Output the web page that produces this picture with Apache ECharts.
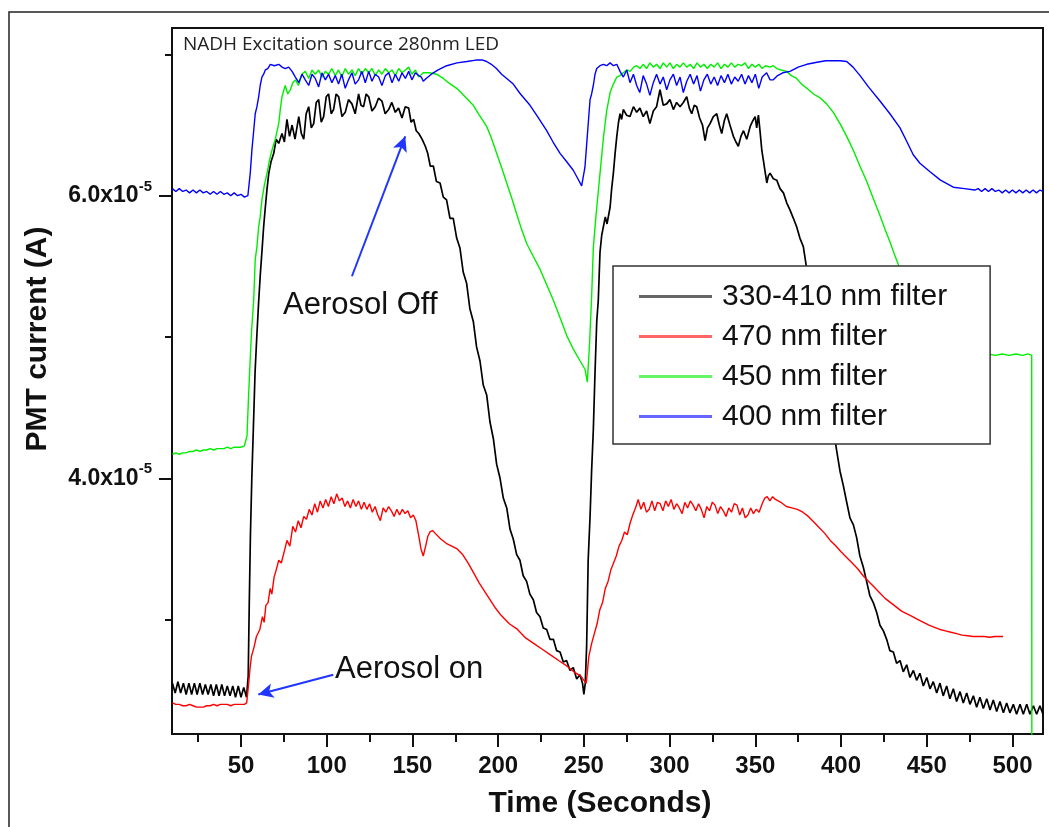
<!DOCTYPE html>
<html>
<head>
<meta charset="utf-8">
<script src="https://cdn.jsdelivr.net/npm/echarts@6/dist/echarts.min.js"></script>
<style>
html,body{margin:0;padding:0;background:#fff;}
#chart{width:1049px;height:827px;}
</style>
</head>
<body>
<div id="chart"></div>
<script>
// Currents are in units of 1e-5 A; time in seconds
const seriesNames = ['330-410 nm filter', '470 nm filter', '450 nm filter', '400 nm filter'];
const seriesColors = ['#000000', '#ff0000', '#00ee00', '#0000ff'];

const xMajorTicks = [50,100,150,200,250,300,350,400,450,500];
const xMinorTicks = [25,75,125,175,225,275,325,375,425,475];
const yMajorTicks = [4,6];
const yMinorTicks = [3,5,7];
const X_MIN = 9.75, X_MAX = 517.8;
const Y_MIN = 2.19, Y_MAX = 7.187;

const filter330_410 = [
[10,2.55],[11.6,2.48],[13.2,2.56],[14.8,2.48],[16.4,2.55],[18,2.47],[19.6,2.55],[21.2,2.47],[22.8,2.55],[24.4,2.47],
[26,2.55],[27.6,2.47],[29.2,2.54],[30.8,2.47],[32.4,2.54],[34,2.46],[35.6,2.54],[37.2,2.46],[38.8,2.54],[40.4,2.46],
[42,2.53],[43.6,2.46],[45.2,2.53],[46.8,2.45],[48.4,2.53],[50,2.45],[51.6,2.52],[53.2,2.45],
[54.2,2.6],[54.8,3.1],[55.5,3.6],[56.3,4.0],[57.2,4.35],[58.2,4.75],[59.2,5.0],[60.3,5.25],[61.3,5.45],[62.3,5.62],
[63.2,5.78],[64.2,5.92],[65.2,6.05],[66.2,6.16],[67.5,6.24],[69.1,6.30],[70.5,6.40],[72,6.37],[73.9,6.44],[75.3,6.38],
[76.8,6.54],[78.3,6.42],[79.8,6.50],[81.5,6.40],[83.7,6.56],[85.2,6.44],[86.6,6.40],[88,6.58],[89.5,6.63],[91,6.48],
[92.4,6.51],[93.9,6.66],[95.3,6.68],[96.8,6.52],[98.2,6.56],[99.7,6.70],[101.1,6.72],[102.6,6.58],[104,6.61],[105.5,6.72],
[107,6.70],[108.9,6.56],[110.8,6.59],[112.7,6.68],[114.7,6.65],[116.6,6.58],[118.6,6.72],[120,6.64],[121.5,6.63],[123,6.72],
[124.5,6.70],[126.4,6.60],[128.3,6.63],[130.2,6.69],[132.2,6.67],[134.1,6.58],[136.1,6.61],[138,6.66],[140,6.59],[141.9,6.62],
[143.9,6.55],[145.8,6.63],[147.8,6.62],[149.2,6.52],[150.7,6.54],[152.2,6.46],[153.7,6.44],[155.6,6.40],[157.5,6.35],[158.9,6.30],
[160.4,6.21],[162.2,6.21],[164,6.10],[166.1,6.09],[168,5.99],[169.9,5.97],[171.9,5.84],[173.8,5.84],[175.8,5.70],[177.7,5.63],
[179.6,5.46],[181.6,5.38],[183.5,5.20],[185.5,5.11],[187.4,4.93],[189.4,4.83],[191.3,4.66],[193.3,4.59],[195.2,4.40],[197.2,4.28],
[199.1,4.10],[201.1,4.00],[203,3.86],[205,3.79],[206.9,3.64],[208.8,3.57],[210.8,3.46],[212.7,3.42],[214.6,3.31],[216.6,3.27],
[218.5,3.18],[220.5,3.14],[222.4,3.05],[224.4,3.02],[226.3,2.94],[228.3,2.93],[230.2,2.86],[232.2,2.86],[234.1,2.78],[236.1,2.77],
[238,2.70],[239.9,2.71],[241.9,2.64],[243.8,2.66],[245.8,2.58],[247.7,2.61],[249.2,2.55],[250,2.47],[250.8,2.55],[251.6,2.81],
[252.5,3.42],[253.6,3.73],[254.5,4.05],[255.5,4.34],[256.5,4.75],[257.5,5.11],[258.4,5.26],[259.4,5.60],[260.4,5.72],[261.4,5.73],
[262.5,5.85],[263.5,5.80],[265.3,5.92],[266.2,6.05],[267.2,6.16],[268.2,6.30],[269.2,6.42],[270.2,6.52],[271.1,6.58],[272,6.54],
[273,6.61],[274.9,6.57],[276.9,6.56],[278.9,6.63],[280.8,6.59],[282.7,6.62],[284.6,6.56],[286.6,6.60],[288.5,6.51],[290.5,6.60],
[292.4,6.63],[294.4,6.75],[296.3,6.64],[298.3,6.65],[300.2,6.68],[302.2,6.61],[304.1,6.66],[306.1,6.63],[308,6.66],[310,6.70],
[311.5,6.62],[312.9,6.58],[314.4,6.64],[315.8,6.63],[317.5,6.55],[319.2,6.50],[320.7,6.39],[322.1,6.48],[323.6,6.51],[325.5,6.56],
[327.5,6.58],[329,6.50],[330.4,6.44],[331.9,6.53],[333.3,6.58],[335.2,6.50],[337.2,6.42],[338.7,6.38],[340.1,6.35],[341.6,6.42],
[343.1,6.46],[345,6.40],[347,6.49],[348.5,6.53],[349.9,6.56],[350.8,6.48],[351.8,6.57],[352.8,6.45],[353.8,6.32],[354.7,6.25],
[355.7,6.17],[356.7,6.09],[357.6,6.14],[358.6,6.16],[360.5,6.12],[362.5,6.11],[364.4,6.05],[366.4,6.02],[368.3,5.95],[370.2,5.90],
[372.2,5.84],[374.1,5.78],[376,5.70],[378,5.64],[380,5.48],[382.5,5.30],[385,5.10],[387.5,4.92],[390,4.75],[392.5,4.58],
[395,4.40],[397.4,4.20],[399.4,4.05],[401.3,3.95],[403.3,3.83],[405.2,3.72],[407.2,3.67],[409.1,3.58],[411,3.45],[413,3.37],
[414.9,3.27],[416.8,3.17],[418.8,3.12],[420.8,3.05],[422.7,2.96],[424.7,2.92],[426.6,2.86],[428.5,2.78],[430.5,2.77],[432.4,2.69],
[434.4,2.71],[436.3,2.63],[438.3,2.68],[440.2,2.59],[442.2,2.64],[444.1,2.57],[446,2.62],[448,2.53],[450,2.59],[451.9,2.51],
[453.8,2.56],[455.8,2.48],[457.7,2.55],[459.6,2.46],[461.6,2.53],[463.5,2.44],[465.5,2.51],[467.4,2.42],[469.4,2.49],[471.3,2.41],
[473.3,2.48],[475.2,2.40],[477.2,2.46],[479.1,2.38],[481,2.45],[483,2.37],[485,2.44],[486.9,2.36],[488.8,2.43],[490.8,2.35],
[492.7,2.42],[494.7,2.34],[496.6,2.41],[498.5,2.34],[500.5,2.40],[502.4,2.33],[504.4,2.40],[506.3,2.33],[508.3,2.40],[510.2,2.33],
[512.2,2.39],[514.1,2.33],[516,2.39],[517.8,2.33]
];

const filter470 = [
[10,2.41],[12,2.40],[14,2.40],[16,2.39],[18,2.39],[20,2.40],[22,2.39],[24,2.38],[26,2.38],[28,2.38],[30,2.39],[32,2.39],
[34,2.40],[36,2.39],[38,2.40],[40,2.40],[42,2.40],[44,2.39],[46,2.40],[48,2.40],[50,2.40],[52,2.40],[53.3,2.41],
[54.5,2.55],[55.3,2.66],[56.1,2.74],[57.5,2.80],[59,2.88],[61,2.93],[62.5,3.02],[63.5,2.98],[64.5,3.10],[65.8,3.12],
[67,3.22],[68,3.18],[69.3,3.30],[70.5,3.35],[72,3.42],[73.5,3.40],[75.4,3.49],[76.8,3.56],[78.5,3.52],[80.2,3.66],
[81.8,3.62],[83.4,3.70],[85,3.65],[86.6,3.73],[88.2,3.71],[89.8,3.78],[91.4,3.74],[93,3.82],[94.6,3.76],[96.2,3.84],
[97.8,3.79],[99.4,3.85],[101,3.80],[102.6,3.87],[104.2,3.82],[105.8,3.89],[107.4,3.84],[109,3.86],[110.6,3.80],[112.2,3.84],
[113.8,3.79],[115.4,3.85],[117,3.80],[118.6,3.84],[120.2,3.78],[121.8,3.83],[123.4,3.78],[125,3.82],[126.6,3.76],[128.2,3.80],
[129.8,3.74],[131.3,3.70],[132.9,3.79],[134.5,3.76],[136.1,3.80],[137.7,3.77],[139.3,3.73],[140.9,3.78],[142.5,3.74],[144.1,3.78],
[145.7,3.75],[147.3,3.77],[148.9,3.72],[150.5,3.74],[152,3.70],[153.7,3.59],[155,3.50],[156.3,3.45],[157.7,3.52],[159,3.59],
[160.2,3.62],[161.7,3.63],[163.3,3.61],[166.5,3.57],[169.7,3.54],[172.9,3.52],[176.1,3.50],[179.3,3.46],[182.5,3.40],[185.7,3.33],
[188.9,3.26],[192.1,3.20],[195.3,3.14],[198.5,3.08],[201.7,3.03],[206.5,2.97],[211.3,2.93],[216,2.87],[220.9,2.83],[225.7,2.79],
[230.5,2.75],[235.3,2.71],[240.2,2.67],[244.2,2.63],[248.2,2.60],[250,2.57],[251.4,2.55],[252.9,2.74],[254.5,2.83],[256.1,2.90],
[257.7,2.97],[259.3,3.07],[260.9,3.12],[262.5,3.22],[264.1,3.27],[265.7,3.35],[267.3,3.40],[268.9,3.45],[270.5,3.52],[272.1,3.56],
[273.7,3.62],[275.3,3.60],[276.9,3.68],[278.5,3.74],[280.1,3.79],[281.7,3.85],[283.3,3.78],[284.9,3.83],[286.5,3.76],[288.1,3.78],
[289.7,3.84],[291.3,3.77],[292.9,3.83],[294.5,3.82],[296.1,3.77],[297.7,3.84],[299.3,3.80],[300.9,3.85],[302.5,3.78],[304.1,3.82],
[305.7,3.79],[307.3,3.75],[308.9,3.83],[310.5,3.79],[312.1,3.84],[313.7,3.81],[315.3,3.77],[316.9,3.82],[318.5,3.78],[320.1,3.72],
[321.7,3.80],[323.3,3.77],[324.9,3.83],[326.5,3.81],[328.1,3.75],[329.7,3.80],[331.3,3.77],[332.9,3.73],[334.5,3.79],[336.1,3.76],
[337.7,3.82],[339.3,3.81],[340.9,3.74],[342.5,3.79],[344.1,3.72],[345.7,3.74],[347.3,3.79],[348.9,3.75],[350.5,3.78],[352.2,3.76],
[354,3.82],[355.5,3.86],[356.9,3.87],[358.5,3.84],[360.1,3.87],[361.7,3.85],[364.9,3.83],[368.1,3.80],[371.3,3.79],[374.5,3.78],
[377.7,3.76],[380.9,3.73],[384.1,3.69],[387.3,3.65],[390.5,3.61],[393.7,3.56],[397,3.52],[400,3.48],[403.3,3.44],[406.5,3.40],
[409.7,3.36],[412.9,3.31],[416.1,3.27],[419.3,3.23],[422.5,3.19],[425.7,3.15],[428.9,3.12],[432.1,3.09],[435.3,3.06],[438.5,3.04],
[441.7,3.02],[444.9,3.00],[448.1,2.98],[451.3,2.96],[454.5,2.945],[457.7,2.93],[460.9,2.92],[464.1,2.91],[467.4,2.90],[470.6,2.89],
[473.8,2.885],[477,2.88],[480.2,2.88],[483.4,2.88],[486.6,2.875],[489.8,2.88],[494.5,2.88]
];

const filter450 = [
[10,4.17],[12,4.18],[14,4.17],[16,4.18],[18,4.18],[20,4.19],[22,4.19],[24,4.20],[26,4.19],[28,4.20],[30,4.20],[32,4.21],
[34,4.20],[36,4.21],[38,4.21],[40,4.21],[42,4.22],[44,4.21],[46,4.22],[48,4.22],[50,4.22],[52,4.23],[53,4.23],
[53.5,4.30],[54.3,4.55],[55.2,4.80],[56.2,5.05],[57.4,5.26],[58.3,5.55],[59.3,5.64],[60.3,5.78],[61.2,5.85],[62.2,5.97],
[63.7,6.08],[65.2,6.16],[66.6,6.25],[68,6.32],[70,6.40],[72,6.51],[73,6.62],[73.9,6.70],[75.8,6.78],[77.3,6.72],
[78.8,6.75],[80.2,6.80],[81.7,6.82],[83.5,6.78],[85.5,6.86],[87.5,6.88],[89.5,6.83],[91.4,6.89],[93.3,6.86],[95.3,6.89],
[97.2,6.84],[99.2,6.88],[101.1,6.86],[103,6.90],[105,6.85],[106.9,6.89],[108.8,6.84],[110.8,6.90],[112.7,6.86],[114.7,6.89],
[116.6,6.85],[118.6,6.90],[120.5,6.86],[122.5,6.90],[124.5,6.87],[126.4,6.90],[128.3,6.85],[130.3,6.89],[132.2,6.86],[134.2,6.90],
[136.2,6.87],[138.1,6.89],[140,6.85],[142,6.90],[143.9,6.87],[145.9,6.89],[147.8,6.91],[149.7,6.86],[151.7,6.89],[153.7,6.84],
[156.3,6.87],[160,6.87],[164,6.86],[168,6.83],[171,6.80],[175.8,6.76],[180,6.71],[185.5,6.64],[189,6.57],[193.3,6.49],
[196,6.41],[199.1,6.30],[202,6.20],[205,6.09],[208,5.98],[210.8,5.87],[213.7,5.76],[216.7,5.66],[220.5,5.57],[224.4,5.48],
[228.3,5.37],[232.2,5.26],[236,5.14],[240,5.01],[244,4.91],[247.8,4.83],[250.7,4.77],[252,4.68],[253.3,4.95],[254.5,5.28],
[255.5,5.63],[257,5.85],[258.4,6.03],[259.9,6.22],[261.4,6.41],[263.3,6.60],[265.3,6.73],[267.2,6.79],[269.2,6.84],[271,6.85],
[273,6.87],[275,6.89],[277,6.88],[279,6.91],[280.8,6.92],[282.7,6.90],[284.6,6.93],[286.6,6.90],[288.5,6.94],[290.5,6.91],
[292.4,6.93],[294.4,6.90],[296.3,6.94],[298.3,6.91],[300.2,6.94],[302.2,6.90],[304.1,6.93],[306,6.91],[308,6.94],[310,6.91],
[312,6.93],[314,6.90],[316,6.94],[318,6.91],[320,6.93],[322,6.90],[324,6.93],[326,6.91],[328,6.94],[330,6.90],
[332,6.93],[334,6.91],[336,6.94],[338,6.91],[340,6.93],[342,6.92],[344,6.94],[346,6.90],[348,6.93],[350,6.91],
[352,6.93],[354,6.90],[356,6.92],[358.6,6.91],[360.5,6.92],[362.5,6.90],[365,6.89],[368.3,6.88],[371,6.85],[374.1,6.83],
[377,6.79],[380,6.76],[384,6.72],[388,6.69],[391.6,6.65],[395.5,6.59],[399.4,6.51],[403.3,6.42],[407.2,6.32],[411,6.21],
[415,6.10],[418.8,5.98],[422.7,5.86],[425.7,5.76],[428.6,5.67],[431,5.59],[433.5,5.51],[437,5.38],[441,5.20],[445,5.03],
[450,4.93],[456,4.89],[462,4.88],[470,4.87],[478,4.88],[483,4.87],[486,4.88],[490,4.87],[494,4.88],[498,4.87],
[502,4.88],[506,4.87],[509,4.88],[511.2,4.87],[511.3,2.0]
];

const filter400 = [
[10,6.05],[12,6.03],[14,6.05],[16,6.03],[18,6.04],[20,6.02],[22,6.04],[24,6.02],[26,6.04],[28,6.02],[30,6.03],[32,6.01],
[34,6.03],[36,6.01],[38,6.03],[40,6.01],[42,6.02],[44,6.00],[46,6.02],[48,6.00],[50,6.01],[52,5.99],[54,6.00],[54.5,6.00],
[55.4,6.16],[56.4,6.33],[57.4,6.46],[58.3,6.58],[59.3,6.63],[60.3,6.70],[61.2,6.78],[62.2,6.84],[63.2,6.86],[64.2,6.89],
[65.6,6.90],[67.1,6.93],[69.5,6.92],[72,6.93],[74,6.91],[75.8,6.90],[77.8,6.91],[79.8,6.88],[81.7,6.84],[83.7,6.80],
[85.6,6.86],[87.5,6.82],[89.5,6.78],[91.4,6.86],[93.3,6.83],[95.3,6.77],[97.2,6.87],[99.2,6.82],[101.1,6.86],[103,6.80],
[105,6.85],[106.9,6.79],[108.8,6.86],[110.8,6.76],[112.7,6.82],[114.7,6.87],[116.6,6.79],[118.6,6.82],[120.5,6.88],[122.5,6.80],
[124.5,6.88],[126.4,6.81],[128.3,6.86],[130.3,6.84],[132.2,6.78],[134.2,6.85],[136.2,6.87],[138.1,6.80],[140,6.86],[142,6.81],
[143.9,6.87],[145.9,6.83],[147.8,6.88],[149.7,6.82],[151.7,6.87],[153.7,6.85],[155.2,6.84],[156.3,6.81],[158,6.83],[161,6.86],
[165,6.89],[170,6.92],[176,6.94],[181.7,6.95],[187,6.96],[191,6.96],[193.3,6.95],[196,6.93],[199,6.90],[202,6.86],
[205,6.83],[208.8,6.79],[213,6.72],[218.6,6.64],[223,6.56],[228.3,6.46],[232,6.38],[236.1,6.30],[240,6.24],[243.8,6.18],
[246.5,6.12],[248.7,6.07],[249.7,6.08],[250.6,6.20],[251.6,6.36],[252.6,6.52],[253.6,6.68],[254.5,6.72],[255.5,6.78],[256.5,6.86],
[257.5,6.90],[259.4,6.92],[261.4,6.93],[263.3,6.92],[265.3,6.94],[267.2,6.92],[269.2,6.93],[271.1,6.88],[273,6.84],[275,6.89],
[276.9,6.80],[278.9,6.86],[280.8,6.78],[282.6,6.73],[284.6,6.85],[286.6,6.79],[288.5,6.71],[290.5,6.80],[292.4,6.86],[294.4,6.79],
[296.3,6.84],[298.3,6.75],[300.2,6.82],[302.2,6.86],[304.1,6.78],[306.1,6.84],[308,6.73],[310,6.81],[312,6.86],[314,6.79],
[316,6.85],[318,6.74],[320,6.82],[322,6.86],[324,6.79],[326,6.84],[328,6.78],[330,6.85],[332,6.80],[334,6.86],
[336,6.79],[338,6.84],[340,6.81],[342,6.86],[344,6.79],[346,6.85],[348,6.80],[350,6.86],[352,6.76],[354,6.84],
[356.6,6.87],[358.6,6.82],[360.5,6.82],[363,6.85],[366,6.87],[370.2,6.88],[375,6.91],[380,6.93],[386,6.945],[391,6.955],
[395.5,6.955],[399.5,6.955],[403.3,6.95],[407,6.91],[411.1,6.85],[416,6.77],[422.7,6.67],[428.5,6.58],[434.4,6.48],[438.5,6.38],
[442.1,6.29],[446,6.23],[451.9,6.17],[458,6.11],[465.5,6.06],[472,6.05],[478,6.04],[480,6.05],[482,6.03],[484,6.05],
[486,6.03],[488,6.05],[490,6.03],[492,6.04],[494,6.02],[496,6.04],[498,6.02],[500,6.04],[502,6.02],[504,6.04],
[506,6.02],[508,6.04],[510,6.02],[512,6.04],[514,6.02],[516,6.04],[517.8,6.03]
];

// annotation arrows: [tail, head] in data coordinates
const arrowOff = [[114.7,5.43],[145.8,6.42]];
const arrowOn = [[103.8,2.61],[60.1,2.47]];

const seriesData = [filter330_410, filter470, filter450, filter400];

const chart = echarts.init(document.getElementById('chart'), null, {renderer:'canvas'});
const axisColor = '#111';
const FONT = 'Liberation Sans, Arial, sans-serif';

const series = seriesData.map((d, i) => ({
  name: seriesNames[i],
  type: 'line',
  data: d,
  showSymbol: false,
  symbol: 'none',
  lineStyle: {color: seriesColors[i], width: i === 0 ? 1.7 : 1.4},
  itemStyle: {color: seriesColors[i]},
  clip: true,
  z: 2 + i
}));
series[3].markLine = {
  silent: true,
  symbol: ['none', 'arrow'],
  symbolSize: [11, 15],
  label: {show: false},
  lineStyle: {color: '#2036ff', width: 2, type: 'solid'},
  data: [
    [{coord: arrowOff[0]}, {coord: arrowOff[1]}],
    [{coord: arrowOn[0]}, {coord: arrowOn[1]}]
  ]
};

const option = {
  animation: false,
  backgroundColor: '#ffffff',
  grid: {left: 172, right: 6, top: 28, bottom: 93, show: true, borderColor: axisColor, borderWidth: 2, backgroundColor: 'transparent'},
  xAxis: [
    {
      type: 'value', min: X_MIN, max: X_MAX, position: 'bottom',
      axisLine: {show: true, onZero: false, lineStyle: {color: axisColor, width: 2}},
      axisTick: {show: true, customValues: xMajorTicks, length: 13, lineStyle: {color: axisColor, width: 2}},
      axisLabel: {customValues: xMajorTicks, fontFamily: FONT, fontWeight: 'bold', fontSize: 24, color: '#111', margin: 20},
      splitLine: {show: false}
    },
    {
      type: 'value', min: X_MIN, max: X_MAX, position: 'bottom',
      axisLine: {show: false},
      axisTick: {show: true, customValues: xMinorTicks, length: 8, lineStyle: {color: axisColor, width: 2}},
      axisLabel: {show: false},
      splitLine: {show: false}
    }
  ],
  yAxis: [
    {
      type: 'value', min: Y_MIN, max: Y_MAX, position: 'left',
      axisLine: {show: true, onZero: false, lineStyle: {color: axisColor, width: 2}},
      axisTick: {show: true, customValues: yMajorTicks, length: 13, lineStyle: {color: axisColor, width: 2}},
      axisLabel: {
        customValues: yMajorTicks, margin: 20,
        formatter: v => '{m|' + v.toFixed(1) + 'x10}{s|-5}',
        rich: {
          m: {fontFamily: FONT, fontWeight: 'bold', fontSize: 23, color: '#111', lineHeight: 24},
          s: {fontFamily: FONT, fontWeight: 'bold', fontSize: 15, color: '#111', padding: [0, 0, 18, 0]}
        }
      },
      splitLine: {show: false}
    },
    {
      type: 'value', min: Y_MIN, max: Y_MAX, position: 'left',
      axisLine: {show: false},
      axisTick: {show: true, customValues: yMinorTicks, length: 7, lineStyle: {color: axisColor, width: 2}},
      axisLabel: {show: false},
      splitLine: {show: false}
    }
  ],
  legend: {
    orient: 'vertical', left: 613, top: 266,
    data: seriesNames,
    backgroundColor: '#ffffff', borderColor: '#333', borderWidth: 1.5,
    padding: [15, 43, 12, 26], itemGap: 9, itemWidth: 73, itemHeight: 3, icon: 'rect',
    itemStyle: {opacity: 0.6},
    textStyle: {fontFamily: FONT, fontSize: 30, color: '#111', lineHeight: 31, padding: [0, 0, 0, 5]},
    selectedMode: false, z: 10
  },
  graphic: [
    {type: 'rect', z: -10, shape: {x: 9, y: 12, width: 1100, height: 900}, style: {fill: 'none', stroke: '#222', lineWidth: 1.5}},
    {type: 'text', x: 183, y: 45, style: {text: 'NADH Excitation source 280nm LED', fontFamily: 'Open Sans', fontSize: 19, fill: '#222', textVerticalAlign: 'middle'}},
    {type: 'text', x: 283, y: 305, style: {text: 'Aerosol Off', fontFamily: FONT, fontSize: 31, fill: '#111', textVerticalAlign: 'middle'}},
    {type: 'text', x: 335, y: 669, style: {text: 'Aerosol on', fontFamily: FONT, fontSize: 31, fill: '#111', textVerticalAlign: 'middle'}},
    {type: 'text', x: 600, y: 804, style: {text: 'Time (Seconds)', fontFamily: FONT, fontWeight: 'bold', fontSize: 30, fill: '#111', textAlign: 'center', textVerticalAlign: 'middle'}},
    {type: 'text', x: 38, y: 339, rotation: Math.PI / 2, style: {text: 'PMT current (A)', fontFamily: FONT, fontWeight: 'bold', fontSize: 30, fill: '#111', textAlign: 'center', textVerticalAlign: 'middle'}}
  ],
  series: series
};
chart.setOption(option);
</script>
</body>
</html>
